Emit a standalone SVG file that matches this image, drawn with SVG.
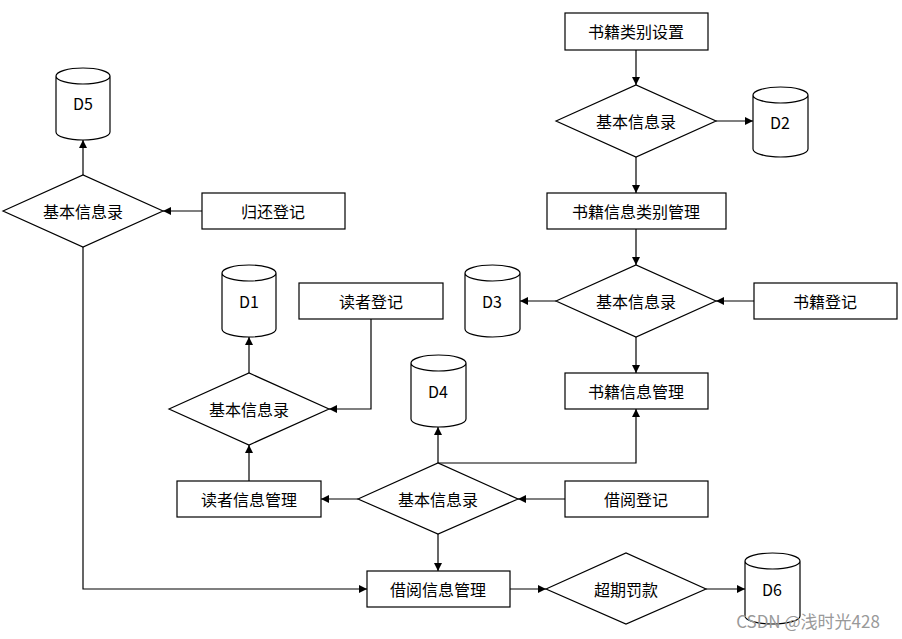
<svg xmlns="http://www.w3.org/2000/svg" width="902" height="639" viewBox="0 0 902 639">
<defs>
<style>
.n rect,.n polygon,.n path{fill:#fff;stroke:#000;stroke-width:1.2}
text{font-family:"Noto Sans CJK SC","Liberation Sans",sans-serif;font-size:16px;text-anchor:middle;dominant-baseline:central;fill:#000}
.c path{fill:none;stroke:#000;stroke-width:1.2;marker-end:url(#a)}
</style>
<marker id="a" viewBox="0 0 10 10" refX="10" refY="5" markerWidth="8" markerHeight="8" markerUnits="userSpaceOnUse" orient="auto"><path d="M0,0L10,5L0,10z" fill="#000"/></marker>
</defs>
<rect width="902" height="639" fill="#fff"/>
<g class="c">
<path d="M636,50V85"/><path d="M716,121H753"/><path d="M636,157V193"/><path d="M636,229V265"/>
<path d="M556,301H520"/><path d="M754,301H716"/><path d="M636,337V373"/>
<path d="M83,175V140"/><path d="M202,211H163"/><path d="M83,247V589H367"/>
<path d="M249,373V337"/><path d="M371,319V409H329"/><path d="M249,481V445"/>
<path d="M358,499H321"/><path d="M438,463V427"/><path d="M438,463H636V409"/>
<path d="M565,499H518"/><path d="M438,534V571"/><path d="M510,589H546"/><path d="M706,589H745"/>
</g>
<g id="n1" class="n"><rect x="565" y="13" width="143" height="37"/><text x="636" y="31">书籍类别设置</text></g>
<g id="n2" class="n"><polygon points="556,121 636,85 716,121 636,157"/><text x="636" y="121">基本信息录</text></g>
<g id="d2" class="n"><path d="M753,95A27.5,8 0 0 1 808,95V149A27.5,8 0 0 1 753,149Z M753,95A27.5,8 0 0 0 808,95"/><text x="780" y="122">D2</text></g>
<g id="n3" class="n"><rect x="547" y="193" width="179" height="36"/><text x="636" y="211">书籍信息类别管理</text></g>
<g id="n4" class="n"><polygon points="556,301 636,265 716,301 636,337"/><text x="636" y="301">基本信息录</text></g>
<g id="d3" class="n"><path d="M465,273A27.5,8 0 0 1 520,273V329A27.5,8 0 0 1 465,329Z M465,273A27.5,8 0 0 0 520,273"/><text x="492" y="301">D3</text></g>
<g id="n5" class="n"><rect x="754" y="283" width="143" height="36"/><text x="825" y="301">书籍登记</text></g>
<g id="n6" class="n"><rect x="565" y="373" width="143" height="36"/><text x="636" y="391">书籍信息管理</text></g>
<g id="d5" class="n"><path d="M56,76A27,8 0 0 1 110,76V132A27,8 0 0 1 56,132Z M56,76A27,8 0 0 0 110,76"/><text x="83" y="103">D5</text></g>
<g id="n7" class="n"><polygon points="3,211 83,175 163,211 83,247"/><text x="83" y="211">基本信息录</text></g>
<g id="n8" class="n"><rect x="202" y="193" width="143" height="36"/><text x="273" y="211">归还登记</text></g>
<g id="d1" class="n"><path d="M222,273A27,8 0 0 1 276,273V329A27,8 0 0 1 222,329Z M222,273A27,8 0 0 0 276,273"/><text x="249" y="301">D1</text></g>
<g id="n9" class="n"><rect x="299" y="283" width="144" height="36"/><text x="371" y="301">读者登记</text></g>
<g id="n10" class="n"><polygon points="169,409 249,373 329,409 249,445"/><text x="249" y="409">基本信息录</text></g>
<g id="d4" class="n"><path d="M411,363A27.5,8 0 0 1 466,363V419A27.5,8 0 0 1 411,419Z M411,363A27.5,8 0 0 0 466,363"/><text x="438" y="391">D4</text></g>
<g id="n11" class="n"><polygon points="358,499 438,463 518,499 438,534"/><text x="438" y="499">基本信息录</text></g>
<g id="n12" class="n"><rect x="177" y="481" width="144" height="36"/><text x="249" y="499">读者信息管理</text></g>
<g id="n13" class="n"><rect x="565" y="481" width="143" height="36"/><text x="636" y="499">借阅登记</text></g>
<g id="n14" class="n"><rect x="367" y="571" width="143" height="36"/><text x="438" y="589">借阅信息管理</text></g>
<g id="n15" class="n"><polygon points="546,589 626,553 706,589 626,624"/><text x="626" y="589">超期罚款</text></g>
<g id="d6" class="n"><path d="M745,561A27.5,8 0 0 1 800,561V616A27.5,8 0 0 1 745,616Z M745,561A27.5,8 0 0 0 800,561"/><text x="772" y="589">D6</text></g>
<text x="808" y="620" style="fill:#999;font-size:17px">CSDN @浅时光428</text>
</svg>
